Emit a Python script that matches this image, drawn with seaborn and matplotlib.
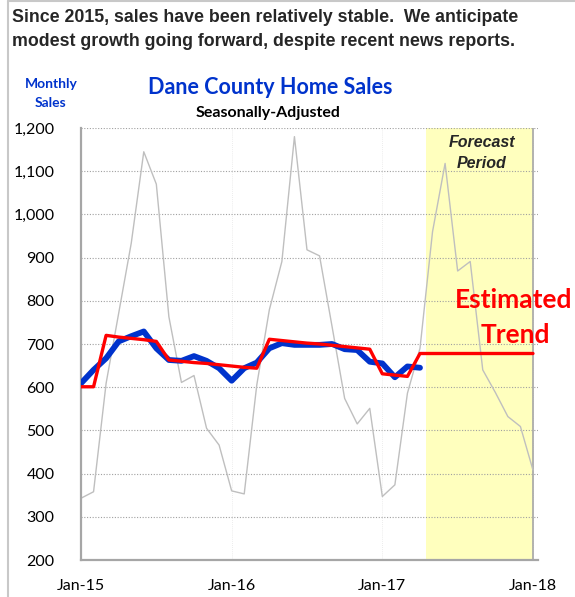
import matplotlib
matplotlib.use("Agg")
import matplotlib.pyplot as plt
import seaborn as sns
from matplotlib.lines import Line2D

# ==========================
# DATA (month index 0 = Jan-15)
# ==========================
month_idx = list(range(37))
raw_sales = [343, 358, 609, 771, 933, 1145, 1070, 763, 611, 627, 505, 466,
             360, 353, 605, 779, 891, 1180, 918, 904, 740, 574, 515, 551,
             347, 374, 586, 690, 960, 1118, 869, 891, 640, 588, 532, 509, 408]
sa_sales = [609, 640, 667, 706, 718, 729, 690, 663, 661, 672, 661, 644,
            615, 644, 657, 690, 702, 698, 698, 698, 700, 688, 686, 659,
            655, 623, 648, 645]
trend_sales = [601, 601, 720, 716, 713, 710, 706, 663, 660, 657, 655, 652,
               649, 646, 644, 711, 708, 705, 702, 700, 697, 694, 691, 688,
               631, 628, 625, 678, 678, 678, 678, 678, 678, 678, 678, 678, 678]
tick_months = [0, 12, 24, 36]
tick_labels = ["Jan-15", "Jan-16", "Jan-17", "Jan-18"]
y_ticks = list(range(200, 1300, 100))
forecast_start, forecast_end = 27.5, 36

W, H = 575, 597


def px(x, y):
    return x / W, 1 - y / H


sns.set_style("white")
plt.rcParams["font.family"] = ["Lato", "DejaVu Sans"]

fig = plt.figure(figsize=(W / 100, H / 100), dpi=100)
ax = fig.add_axes([81 / W, 37 / H, 457 / W, 432 / H])

# forecast shading
ax.axvspan(forecast_start, forecast_end, color="#FFFFBE", lw=0, zorder=0.2)

sns.lineplot(x=month_idx, y=raw_sales, color="#BFBFBF", lw=1.0, ax=ax, zorder=2)
sns.lineplot(x=month_idx[:len(sa_sales)], y=sa_sales, color="#0033CC",
             lw=4.2, ax=ax, zorder=3)
sns.lineplot(x=month_idx, y=trend_sales, color="#FF0000", lw=2.4, ax=ax, zorder=4)

ax.axvline(forecast_end, color="#A6A6A6", lw=1.2, zorder=1)

# axes styling
ax.set_xlim(0, 36.4)
ax.set_ylim(200, 1200)
ax.set_xticks(tick_months)
ax.set_xticklabels(tick_labels)
ax.set_yticks(y_ticks)
ax.set_yticklabels([f"{v:,}" for v in y_ticks])
ax.set_xlabel("")
ax.set_ylabel("")

ax.set_axisbelow(True)
ax.yaxis.grid(True, ls=(0, (1, 1.5)), color="#A0A0A0", lw=0.8)
ax.xaxis.grid(True, ls=(0, (1, 1.5)), color="#E6E6E6", lw=0.6)

for side in ["top", "right"]:
    ax.spines[side].set_visible(False)
for side in ["left", "bottom"]:
    ax.spines[side].set_color("#A6A6A6")
    ax.spines[side].set_linewidth(1.6)

ax.tick_params(axis="y", direction="out", length=6, width=1, color="#A6A6A6",
               pad=13, labelsize=11.5, labelcolor="black")
ax.tick_params(axis="x", direction="out", length=6, width=1, color="#A6A6A6",
               pad=8, labelsize=11.5, labelcolor="black")

# ==========================
# TEXT
# ==========================
headline = ["Since 2015, sales have been relatively stable.  We anticipate",
            "modest growth going forward, despite recent news reports."]
fig.text(*px(12, 18), headline[0], ha="left", va="center",
         family="Liberation Sans", weight="bold", size=12.8)
fig.text(*px(12, 42), headline[1], ha="left", va="center",
         family="Liberation Sans", weight="bold", size=12.8)

fig.text(*px(51, 84), "Monthly", ha="center", va="center", color="#0033CC",
         weight="bold", size=10)
fig.text(*px(51, 103), "Sales", ha="center", va="center", color="#0033CC",
         weight="bold", size=10)

fig.text(*px(270, 88), "Dane County Home Sales", ha="center", va="center",
         color="#0033CC", weight="bold", size=15.5)
fig.text(*px(268, 113), "Seasonally-Adjusted", ha="center", va="center",
         color="black", weight="bold", size=11.5)

fig.text(*px(482, 142), "Forecast", ha="center", va="center",
         family="Liberation Sans", weight="bold", style="italic", size=11.5)
fig.text(*px(482, 163), "Period", ha="center", va="center",
         family="Liberation Sans", weight="bold", style="italic", size=11.5)

fig.text(*px(514, 300), "Estimated", ha="center", va="center", color="#FF0000",
         weight="bold", size=19)
fig.text(*px(515, 335), "Trend", ha="center", va="center", color="#FF0000",
         weight="bold", size=19)

# slide frame (left and top edges)
fig.add_artist(Line2D([8 / W, 8 / W], [0, 1 - 1 / H], transform=fig.transFigure,
                      color="#C8C8C8", lw=1.5))
fig.add_artist(Line2D([8 / W, 1], [1 - 1 / H, 1 - 1 / H], transform=fig.transFigure,
                      color="#C8C8C8", lw=1.5))

fig.savefig("out.png", dpi=100)
